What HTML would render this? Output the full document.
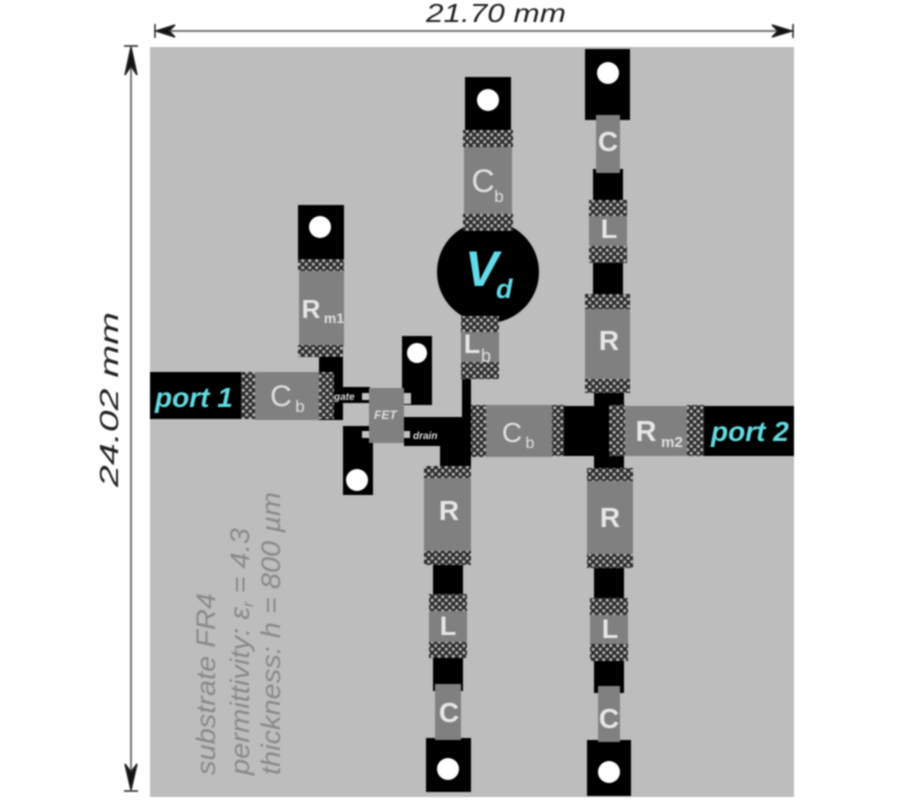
<!DOCTYPE html>
<html>
<head>
<meta charset="utf-8">
<style>
html,body{margin:0;padding:0;background:#fff;width:900px;height:800px;overflow:hidden}
svg{display:block;filter:blur(0.7px)}
text{font-family:"Liberation Sans",sans-serif}
.w{fill:#e6e6e6;font-weight:bold;text-anchor:middle}
.c{fill:#e0e0e0;text-anchor:middle}
.p{fill:#62dbe0;font-weight:bold;font-style:italic;font-size:28px}
.g{fill:#8a8a8a;font-style:italic;font-size:27px}
.d{fill:#222;font-style:italic;font-size:26px}
</style>
</head>
<body>
<svg width="900" height="800" viewBox="0 0 900 800" xmlns="http://www.w3.org/2000/svg">
<defs>
<pattern id="h" width="7" height="7" patternUnits="userSpaceOnUse">
<rect width="7" height="7" fill="#2a2a2a"/>
<circle cx="1.75" cy="1.75" r="1.6" fill="#b0b0b0"/>
<circle cx="5.25" cy="5.25" r="1.6" fill="#b0b0b0"/>
</pattern>
</defs>
<rect width="900" height="800" fill="#fff"/>
<rect x="150" y="47" width="644" height="750" fill="#bdbdbd"/>

<!-- Dimension arrows -->
<g fill="#111" stroke="#777">
<line x1="160" y1="31" x2="786" y2="31" stroke-width="2"/>
<line x1="131" y1="54" x2="131" y2="782" stroke-width="2"/>
</g>
<g stroke="#222" stroke-width="1.5" fill="#111">
<path d="M156 31 L175 25 L169 31 L175 37 Z"/>
<path d="M155 24 V38"/>
<path d="M792 31 L772 25 L778 31 L772 37 Z"/>
<path d="M793 24 V38"/>
<path d="M131 47 L125 75 L131 66 L137 75 Z"/>
<path d="M124 46 H138"/>
<path d="M131 790 L125 764 L131 772 L137 764 Z"/>
<path d="M124 791 H138"/>
</g>
<text class="d" x="426" y="22" textLength="140" lengthAdjust="spacingAndGlyphs">21.70 mm</text>
<text class="d" transform="translate(118 487) rotate(-90)" textLength="175" lengthAdjust="spacingAndGlyphs">24.02 mm</text>

<!-- Substrate text -->
<text class="g" transform="translate(215 775) rotate(-90)" textLength="182" lengthAdjust="spacingAndGlyphs">substrate FR4</text>
<text class="g" transform="translate(249 775) rotate(-90)" textLength="247" lengthAdjust="spacingAndGlyphs">permittivity: ε<tspan font-size="15" dy="4">r</tspan><tspan dy="-4"> = 4.3</tspan></text>
<text class="g" transform="translate(280 775) rotate(-90)" textLength="283" lengthAdjust="spacingAndGlyphs">thickness: h = 800 µm</text>

<!-- Black traces and pads -->
<g fill="#000">
<rect x="465" y="77" width="46" height="53"/>
<rect x="585" y="49" width="45" height="71"/>
<rect x="593" y="169" width="30" height="32"/>
<rect x="593" y="262" width="30" height="33"/>
<rect x="594" y="392" width="30" height="77"/>
<rect x="150" y="372" width="91" height="47"/>
<rect x="319" y="357" width="24" height="63"/>
<rect x="298" y="205" width="46" height="55"/>
<rect x="340" y="387" width="30" height="16"/>
<rect x="402" y="336" width="30" height="69"/>
<rect x="343" y="426" width="30" height="69"/>
<rect x="404" y="417" width="67" height="29"/>
<rect x="440" y="417" width="31" height="50"/>
<rect x="462" y="378" width="9" height="40"/>
<rect x="564" y="406" width="46" height="50"/>
<rect x="704" y="406" width="90" height="50"/>
<rect x="433" y="564" width="30" height="32"/>
<rect x="433" y="657" width="30" height="34"/>
<rect x="426" y="738" width="45" height="54"/>
<rect x="594" y="567" width="30" height="32"/>
<rect x="594" y="660" width="30" height="33"/>
<rect x="587" y="740" width="44" height="56"/>
<circle cx="488" cy="272" r="51"/>
</g>

<!-- Grey component bodies -->
<g fill="#808080">
<rect x="464" y="147" width="48" height="68"/>
<rect x="461" y="331" width="38" height="32"/>
<rect x="596" y="115" width="24" height="58"/>
<rect x="589" y="215" width="38" height="32"/>
<rect x="585" y="308" width="45" height="72"/>
<rect x="255" y="372" width="64" height="48"/>
<rect x="299" y="270" width="45" height="76"/>
<rect x="369" y="388" width="35" height="55"/>
<rect x="486" y="405" width="66" height="52"/>
<rect x="625" y="406" width="63" height="50"/>
<rect x="424" y="477" width="47" height="75"/>
<rect x="429" y="610" width="38" height="33"/>
<rect x="435" y="684" width="26" height="56"/>
<rect x="587" y="480" width="46" height="75"/>
<rect x="590" y="614" width="38" height="31"/>
<rect x="598" y="686" width="22" height="56"/>
</g>

<!-- Hatched pads -->
<g fill="url(#h)">
<rect x="463" y="130" width="50" height="17"/>
<rect x="463" y="214" width="50" height="17"/>
<rect x="461" y="316" width="38" height="16"/>
<rect x="461" y="362" width="38" height="17"/>
<rect x="589" y="200" width="38" height="16"/>
<rect x="589" y="246" width="38" height="17"/>
<rect x="585" y="294" width="45" height="15"/>
<rect x="585" y="379" width="45" height="14"/>
<rect x="241" y="372" width="14" height="47"/>
<rect x="319" y="372" width="15" height="47"/>
<rect x="298" y="259" width="46" height="12"/>
<rect x="298" y="345" width="45" height="12"/>
<rect x="471" y="405" width="15" height="52"/>
<rect x="552" y="405" width="12" height="51"/>
<rect x="609" y="405" width="16" height="51"/>
<rect x="687" y="405" width="17" height="51"/>
<rect x="424" y="466" width="47" height="12"/>
<rect x="424" y="551" width="47" height="14"/>
<rect x="429" y="594" width="38" height="17"/>
<rect x="429" y="642" width="38" height="16"/>
<rect x="587" y="468" width="46" height="13"/>
<rect x="587" y="554" width="46" height="14"/>
<rect x="590" y="598" width="38" height="17"/>
<rect x="590" y="644" width="38" height="17"/>
</g>

<!-- Small light squares -->
<g fill="#c2c2c2">
<rect x="362" y="393" width="7" height="7"/>
<rect x="404" y="393" width="7" height="11"/>
<rect x="362" y="431" width="7" height="7"/>
<rect x="404" y="431" width="6" height="7"/>
</g>

<!-- Holes -->
<g fill="#fff">
<circle cx="488" cy="100" r="11"/>
<circle cx="608" cy="73" r="11"/>
<circle cx="320" cy="227" r="11"/>
<circle cx="417" cy="353" r="10"/>
<circle cx="357" cy="480" r="11"/>
<circle cx="448" cy="769" r="11"/>
<circle cx="609" cy="772" r="11"/>
</g>

<!-- Labels -->
<text class="c" font-size="32" x="483" y="192">C</text><text class="c" font-size="17" x="499" y="202">b</text>
<text class="c" font-size="30" x="281" y="406">C</text><text class="c" font-size="17" x="300" y="412">b</text>
<text class="c" font-size="28" x="512" y="442">C</text><text class="c" font-size="16" x="530" y="448">b</text>
<text class="w" font-size="28" x="608" y="151">C</text>
<text class="w" font-size="27" x="609" y="238">L</text>
<text class="w" font-size="28" x="609" y="350">R</text>
<text class="w" font-size="28" x="449" y="520">R</text>
<text class="w" font-size="27" x="448" y="635">L</text>
<text class="w" font-size="28" x="449" y="722">C</text>
<text class="w" font-size="28" x="610" y="527">R</text>
<text class="w" font-size="27" x="610" y="638">L</text>
<text class="w" font-size="28" x="609" y="728">C</text>
<text class="w" font-size="27" x="472" y="353">L</text><text class="c" font-size="18" x="486" y="362">b</text>
<text class="w" font-size="26" x="311" y="318">R</text><text class="c" font-size="14" font-weight="bold" x="334" y="323">m1</text>
<text class="w" font-size="29" x="646" y="441">R</text><text class="c" font-size="15" font-weight="bold" x="672" y="447">m2</text>

<text x="465" y="286" font-size="50" font-weight="bold" font-style="italic" fill="#62dbe8">V</text>
<text x="496" y="298" font-size="27" font-weight="bold" font-style="italic" fill="#62dbe8">d</text>

<text class="p" x="155" y="407">port 1</text>
<text class="p" x="711" y="441">port 2</text>

<text x="374" y="419" font-size="12" font-weight="bold" font-style="italic" fill="#ddd">FET</text>
<text x="334" y="400" font-size="10" font-weight="bold" font-style="italic" fill="#ddd">gate</text>
<text x="413" y="439" font-size="10" font-weight="bold" font-style="italic" fill="#ddd">drain</text>
</svg>
</body>
</html>
